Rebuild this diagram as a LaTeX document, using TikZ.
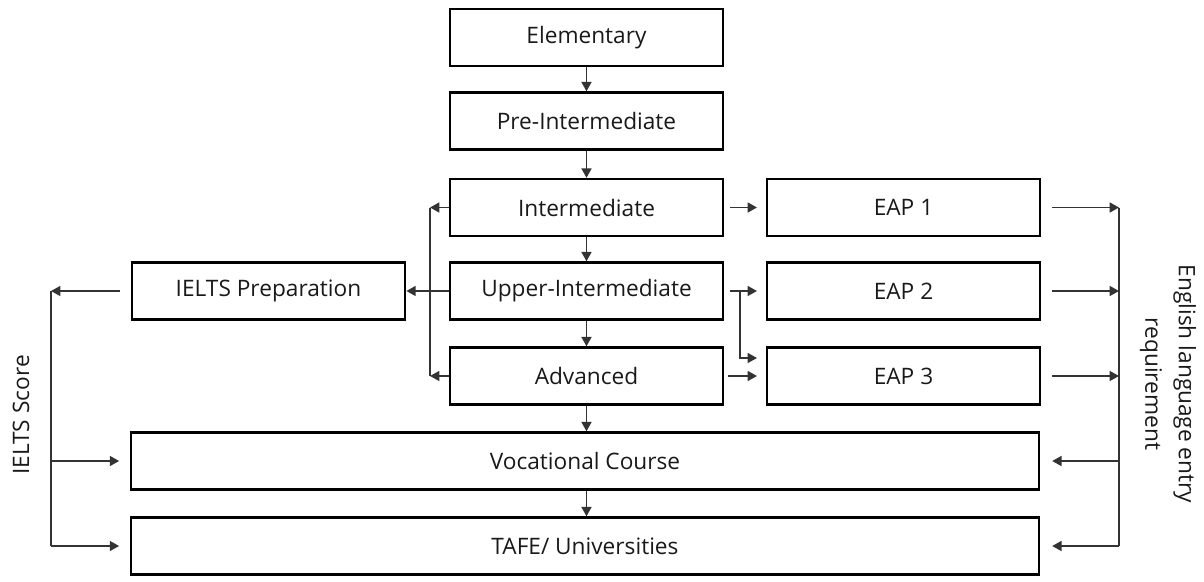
\documentclass[tikz,border=0pt]{standalone}
\usepackage{fontspec}
\setmainfont{Open Sans}
\usetikzlibrary{arrows.meta}

\tikzset{
  level/.style={draw=black, line width=1.8pt, minimum width=205pt, minimum height=42.75pt,
    inner sep=0pt, text=black!90, font=\fontsize{17}{20}\selectfont},
  wide/.style={level, minimum width=681pt},
  link/.style={draw=black!80, line width=1.1pt},
  arr/.style={link, -{Triangle[length=7pt,width=7.5pt]}},
  side/.style={text=black!90, font=\fontsize{17}{25}\selectfont, align=center},
}

\begin{document}
\begin{tikzpicture}[x=0.75pt,y=-0.75pt]
    \useasboundingbox (0,0) rectangle (1204,582);
    % levels
    \node[level] (elem) at (586.5,37.5) {Elementary};
    \node[level] (pre) at (586.5,121) {Pre-Intermediate};
    \node[level] (inter) at (586.5,207.5) {Intermediate};
    \node[level] (upper) at (586.5,291) {Upper-Intermediate};
    \node[level] (adv) at (586.5,376) {Advanced};
    \node[level] (ielts) at (268.5,291) {IELTS Preparation};
    \node[level] (eap1) at (903.5,207.5) {EAP 1};
    \node[level] (eap2) at (903.5,291) {EAP 2};
    \node[level] (eap3) at (903.5,376) {EAP 3};
    \node[wide] (voc) at (585,461) {Vocational Course};
    \node[wide] (tafe) at (585,546) {TAFE/ Universities};
    \node[side, rotate=90] (score) at (21,415) {IELTS Score};
    \node[side, rotate=-90] (entry) at (1168,384) {English language entry\\requirement};
    \coordinate (lbar) at (430,0);
    \coordinate (ebar) at (740,0);
    \coordinate (rbar) at (1119,0);
    \coordinate (sbar) at (51,0);

    % main line
    \draw[arr] (elem) -- (pre);
    \draw[arr] (pre) -- (inter);
    \draw[arr] (inter) -- (upper);
    \draw[arr] (upper) -- (adv);
    \draw[arr] (adv) -- (voc.north -| adv);
    \draw[arr] (voc.south -| adv) -- (tafe.north -| adv);

    % left bracket
    \draw[arr] (inter.west) -- (inter.west -| lbar);
    \draw[arr] (adv.west) -- (adv.west -| lbar);
    \draw[link] (inter.west -| lbar) -- (adv.west -| lbar);
    \draw[arr] (upper.west) -- (ielts.east);

    % to EAP
    \draw[arr, shorten <=4.5pt, shorten >=6.5pt] (inter) -- (eap1);
    \draw[arr, shorten <=4.5pt, shorten >=6.5pt] (upper) -- (eap2);
    \draw[arr, shorten >=6.5pt] (upper.east -| ebar) |- ([yshift=13.5pt]eap3.west);
    \draw[arr, shorten <=3pt, shorten >=6.5pt] (adv) -- (eap3);

    % entry requirement
    \draw[arr, shorten <=8pt] (eap1.east) -- (eap1.east -| rbar);
    \draw[arr, shorten <=8pt] (eap2.east) -- (eap2.east -| rbar);
    \draw[arr, shorten <=8pt] (eap3.east) -- (eap3.east -| rbar);
    \draw[link] (eap1.east -| rbar) -- (tafe.east -| rbar);
    \draw[arr, shorten >=9pt] (voc.east -| rbar) -- (voc.east);
    \draw[arr, shorten >=9pt] (tafe.east -| rbar) -- (tafe.east);

    % IELTS score
    \draw[arr, shorten <=8pt] (ielts.west) -- (ielts.west -| sbar);
    \draw[link] (ielts.west -| sbar) -- (tafe.west -| sbar);
    \draw[arr, shorten >=8pt] (voc.west -| sbar) -- (voc.west);
    \draw[arr, shorten >=8pt] (tafe.west -| sbar) -- (tafe.west);
\end{tikzpicture}
\end{document}
